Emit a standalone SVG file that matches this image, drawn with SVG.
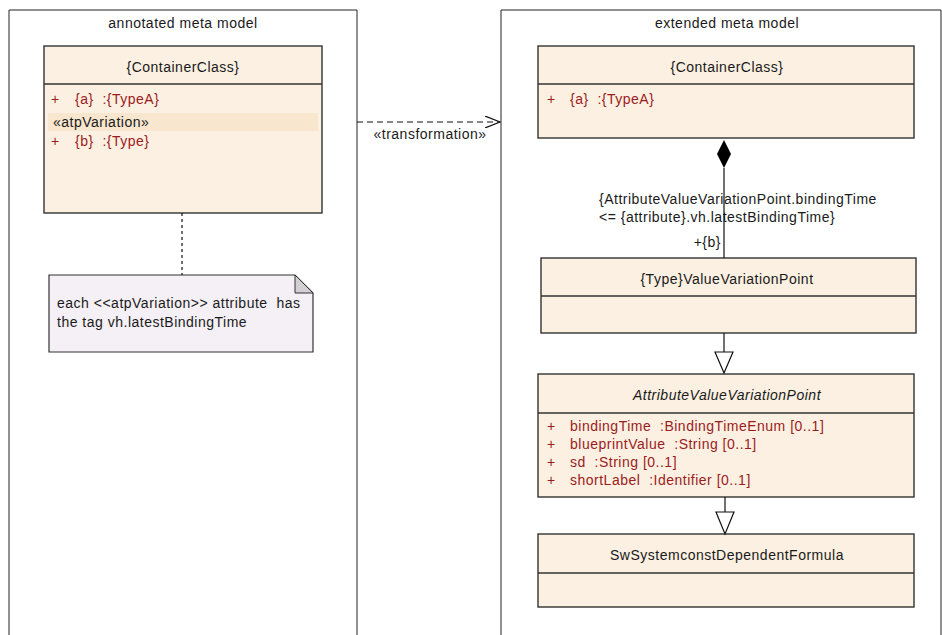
<svg xmlns="http://www.w3.org/2000/svg" width="942" height="635" viewBox="0 0 942 635">
<style>
text{font-family:"Liberation Sans",Arial,sans-serif;font-size:14px;letter-spacing:0.5px;fill:#1a1a1a}
.cls{fill:#FBF0E1;stroke:#333;stroke-width:1.4}
.div{stroke:#333;stroke-width:1.4}
.attr{fill:#9b1c1c}
.frame{fill:none;stroke:#222;stroke-width:1}
.mid{text-anchor:middle}
.line{stroke:#111;stroke-width:1.2;fill:none}
</style>
<defs>
<marker id="open" markerWidth="16" markerHeight="12" refX="15" refY="6" orient="auto" markerUnits="userSpaceOnUse"><path d="M0,0 L15,6 L0,12" fill="none" stroke="#111" stroke-width="1.2"/></marker>
</defs>
<g id="frame-annotated">
<path class="frame" d="M9,635 V10 H357 V635"/>
<text class="mid" x="183" y="28">annotated meta model</text>
</g>
<g id="frame-extended">
<path class="frame" d="M501,635 V10 H941 V635"/>
<text class="mid" x="727" y="28">extended meta model</text>
</g>
<g id="left-container">
<rect class="cls" x="44" y="46" width="278" height="167"/>
<line class="div" x1="44" y1="84" x2="322" y2="84"/>
<text class="mid" x="183" y="72">{ContainerClass}</text>
<text class="attr" x="51" y="104">+</text>
<text class="attr" x="75" y="104">{a}&#160; :{TypeA}</text>
<rect x="48" y="113" width="270" height="18" fill="#F8E6CF"/>
<text x="53" y="127">«atpVariation»</text>
<text class="attr" x="51" y="146">+</text>
<text class="attr" x="75" y="146">{b}&#160; :{Type}</text>
</g>
<g id="note">
<path d="M49,275 H295 L313,293 V352 H49 Z" fill="#F5F0F5" stroke="#333" stroke-width="1.2"/>
<path d="M295,275 V293 H313 Z" fill="#D3D0D3" stroke="#333" stroke-width="1"/>
<text x="57" y="308">each &lt;&lt;atpVariation&gt;&gt; attribute&#160; has</text>
<text x="57" y="327">the tag vh.latestBindingTime</text>
</g>
<g id="right-container">
<rect class="cls" x="538" y="46" width="376" height="92"/>
<line class="div" x1="538" y1="84" x2="914" y2="84"/>
<text class="mid" x="727" y="72">{ContainerClass}</text>
<text class="attr" x="547" y="104">+</text>
<text class="attr" x="570" y="104">{a}&#160; :{TypeA}</text>
</g>
<g id="type-vvp">
<rect class="cls" x="541" y="258" width="375" height="75"/>
<line class="div" x1="541" y1="296" x2="916" y2="296"/>
<text class="mid" x="727" y="284">{Type}ValueVariationPoint</text>
</g>
<g id="attr-vvp">
<rect class="cls" x="538" y="374" width="376" height="123"/>
<line class="div" x1="538" y1="413" x2="914" y2="413"/>
<text class="mid" x="727" y="400" font-style="italic">AttributeValueVariationPoint</text>
<text class="attr" x="547" y="431">+</text>
<text class="attr" x="570" y="431">bindingTime&#160; :BindingTimeEnum [0..1]</text>
<text class="attr" x="547" y="449">+</text>
<text class="attr" x="570" y="449">blueprintValue&#160; :String [0..1]</text>
<text class="attr" x="547" y="467">+</text>
<text class="attr" x="570" y="467">sd&#160; :String [0..1]</text>
<text class="attr" x="547" y="485">+</text>
<text class="attr" x="570" y="485">shortLabel&#160; :Identifier [0..1]</text>
</g>
<g id="sw-formula">
<rect class="cls" x="538" y="534" width="376" height="73"/>
<line class="div" x1="538" y1="573" x2="914" y2="573"/>
<text class="mid" x="727" y="560">SwSystemconstDependentFormula</text>
</g>
<g id="connectors">
<line class="line" x1="182" y1="213" x2="182" y2="275" stroke-dasharray="3,3"/>
<line class="line" x1="357" y1="122" x2="500" y2="122" stroke-dasharray="6,4" marker-end="url(#open)"/>
<text class="mid" x="430" y="139">«transformation»</text>
<path d="M724,140 L731,154 L724,168 L717,154 Z" fill="#000"/>
<line class="line" x1="724" y1="168" x2="724" y2="258"/>
<text x="599" y="204">{AttributeValueVariationPoint.bindingTime</text>
<text x="599" y="222">&lt;= {attribute}.vh.latestBindingTime}</text>
<text x="721" y="247" text-anchor="end">+{b}</text>
<line class="line" x1="724" y1="333" x2="724" y2="352"/>
<path d="M715,352 L733,352 L724,373 Z" fill="#fff" stroke="#111" stroke-width="1.2"/>
<line class="line" x1="725" y1="497" x2="725" y2="512"/>
<path d="M716,512 L734,512 L725,534 Z" fill="#fff" stroke="#111" stroke-width="1.2"/>
</g>
</svg>
